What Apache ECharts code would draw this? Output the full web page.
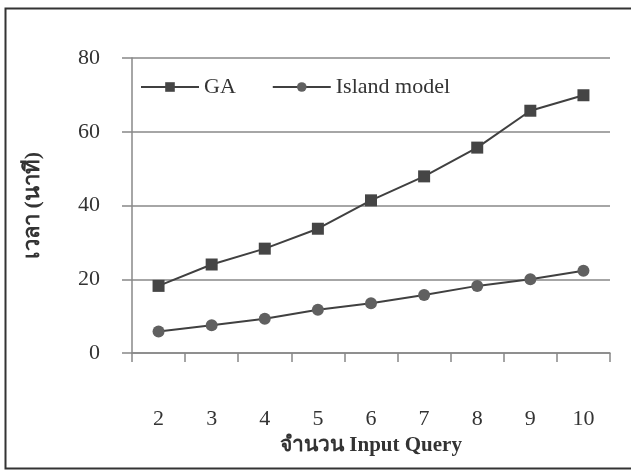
<!DOCTYPE html>
<html><head><meta charset="utf-8">
<script src="https://cdn.jsdelivr.net/npm/echarts@6/dist/echarts.min.js"></script>
<style>html,body{margin:0;padding:0;background:#fff}#c{width:631px;height:471px}</style>
</head><body><div id="c"></div>
<script>
const categories = ['2','3','4','5','6','7','8','9','10'];
const gaValues = [18.2, 24.0, 28.3, 33.7, 41.4, 47.9, 55.7, 65.7, 69.9];
const islandValues = [5.8, 7.5, 9.3, 11.7, 13.5, 15.7, 18.2, 20.0, 22.3];
const yTicks = {min: 0, max: 80, interval: 20};
const seriesNames = ['GA', 'Island model'];
const xTitle = 'จำนวน Input Query';
const yTitle = 'เวลา (นาที)';

const serif = '"Liberation Serif", "Times New Roman", serif';
const chart = echarts.init(document.getElementById('c'), null, {renderer: 'canvas'});
chart.setOption({
  backgroundColor: '#fff',
  animation: false,
  graphic: [{
    type: 'rect', shape: {x: 5.5, y: 8.5, width: 640, height: 460},
    style: {fill: 'none', stroke: '#333', lineWidth: 2}
  }],
  legend: {
    left: 135, top: 71,
    itemWidth: 58, itemHeight: 12, itemGap: 36,
    textStyle: {fontFamily: serif, fontSize: 22, color: '#333'},
    data: seriesNames
  },
  grid: {left: 132, right: 21, top: 58, bottom: 118, containLabel: false},
  xAxis: {
    type: 'category', data: categories, boundaryGap: true,
    axisLine: {lineStyle: {color: '#888', width: 1.5}},
    axisTick: {show: true, length: 9, lineStyle: {color: '#888', width: 1.5}},
    axisLabel: {margin: 55, fontFamily: serif, fontSize: 22, color: '#333'},
    name: xTitle, nameLocation: 'middle', nameGap: 82,
    nameTextStyle: {fontFamily: serif, fontSize: 21, fontWeight: 'bold', color: '#333'}
  },
  yAxis: {
    type: 'value', min: yTicks.min, max: yTicks.max, interval: yTicks.interval,
    axisLine: {show: true, lineStyle: {color: '#888', width: 1.5}},
    axisTick: {show: true, length: 10, lineStyle: {color: '#888', width: 1.5}},
    splitLine: {lineStyle: {color: '#888', width: 1.5}},
    axisLabel: {margin: 32, fontFamily: serif, fontSize: 22, color: '#333'},
    name: yTitle, nameLocation: 'middle', nameGap: 88, nameRotate: 90,
    nameTextStyle: {fontFamily: serif, fontSize: 22, fontWeight: 'bold', color: '#333'}
  },
  series: [
    {name: seriesNames[0], type: 'line', data: gaValues, symbol: 'rect', symbolSize: 12,
     lineStyle: {color: '#404040', width: 2}, itemStyle: {color: '#454545'}},
    {name: seriesNames[1], type: 'line', data: islandValues, symbol: 'circle', symbolSize: 12,
     lineStyle: {color: '#404040', width: 2}, itemStyle: {color: '#606060'}}
  ]
});
</script></body></html>
